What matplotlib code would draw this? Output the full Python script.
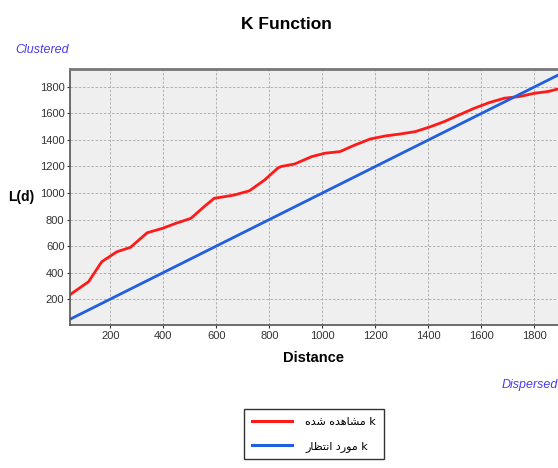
import matplotlib
matplotlib.use("Agg")
import matplotlib.pyplot as plt
from matplotlib.lines import Line2D

# values
distance = [48, 55, 118, 168, 225, 276, 339, 396, 447, 504, 554, 592, 630, 668,
            725, 782, 833, 845, 896, 959, 1010, 1066, 1123, 1180, 1237, 1294,
            1351, 1408, 1459, 1516, 1573, 1630, 1687, 1743, 1800, 1851, 1900]
observed_L = [232, 243, 331, 482, 557, 590, 700, 733, 771, 809, 897, 960, 972, 985,
              1017, 1098, 1190, 1200, 1219, 1274, 1300, 1312, 1362, 1407, 1430, 1445,
              1463, 1500, 1538, 1589, 1639, 1682, 1715, 1727, 1752, 1765, 1790]
expected_d = [48, 1900]
expected_L = [48, 1900]

xticks = [200, 400, 600, 800, 1000, 1200, 1400, 1600, 1800]
yticks = [200, 400, 600, 800, 1000, 1200, 1400, 1600, 1800]

# Persian legend labels (presentation forms, visual order)
lbl_obs = "\uFEE9\uFEAA\uFEB7 \uFEE9\uFEAA\uFEEB\uFE8E\uFEB8\uFEE3 k"
lbl_exp = "\uFEAD\uFE8E\uFEC8\uFE98\uFEE7\uFE8D \uFEA9\uFEAD\uFEEE\uFEE3 k"

plt.rcParams['font.family'] = ['Liberation Sans', 'DejaVu Sans']

fig = plt.figure(figsize=(5.58, 4.68), dpi=100)
ax = fig.add_axes([0.1254, 0.3056, 0.88, 0.547])
ax.set_facecolor('#efefef')

red = '#ff1a1a'
blue = '#1f5fe0'
ax.plot(distance, observed_L, color=red, lw=2)
ax.plot(expected_d, expected_L, color=blue, lw=2)

ax.set_xlim(48, 1900)
ax.set_ylim(5, 1935)
ax.set_xticks(xticks)
ax.set_yticks(yticks)
ax.tick_params(labelsize=8, colors='#333333', length=2.5, pad=1.5,
               direction='out')
ax.grid(True, color='#a8a8a8', linestyle=(0, (3, 2)), lw=0.6)
ax.set_axisbelow(True)
for s in ['left', 'bottom']:
    ax.spines[s].set_color('#555555')
    ax.spines[s].set_linewidth(1.2)
ax.spines['top'].set_color('#777777')
ax.spines['top'].set_linewidth(2)
ax.spines['right'].set_visible(False)

fig.text(0.514, 0.947, 'K Function', ha='center', va='center',
         fontsize=12.5, fontweight='bold')
fig.text(0.028, 0.893, 'Clustered', ha='left', va='center', fontsize=9,
         style='italic', color='#4a3cf0')
fig.text(0.561, 0.235, 'Distance', ha='center', va='center',
         fontsize=10.5, fontweight='bold')
fig.text(0.038, 0.579, 'L(d)', ha='center', va='center',
         fontsize=10, fontweight='bold')
fig.text(1.0, 0.177, 'Dispersed', ha='right', va='center', fontsize=9,
         style='italic', color='#4a3cf0')

handles = [Line2D([], [], color=red, lw=2.2), Line2D([], [], color=blue, lw=2.2)]
fig.legend(handles, [lbl_obs, lbl_exp], loc='upper center',
           bbox_to_anchor=(0.563, 0.137), fancybox=False,
           edgecolor='#333333', framealpha=1, handlelength=3.6,
           labelspacing=1.2, borderpad=0.7, handletextpad=1.2,
           prop={'family': ['DejaVu Sans'], 'size': 8})

fig.savefig('out.png', dpi=100)
